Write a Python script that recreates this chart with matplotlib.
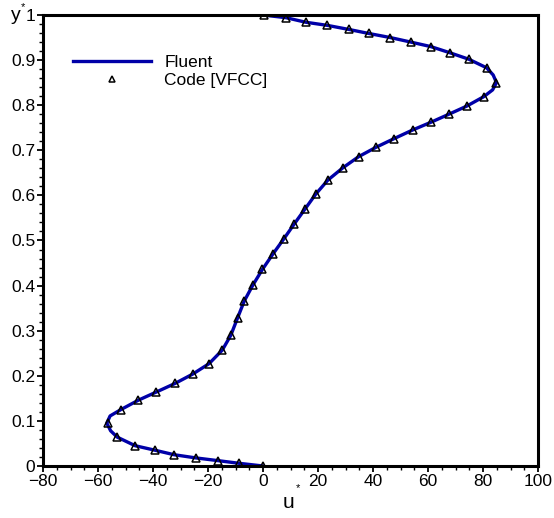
import matplotlib
matplotlib.use("Agg")
import matplotlib.pyplot as plt
from matplotlib.ticker import MultipleLocator

plt.rcParams['font.family'] = ['Liberation Sans', 'DejaVu Sans']

# Code [VFCC] samples (u*, y*)
code_u = [0.0, -8.7, -16.5, -24.5, -32.3, -39.3, -46.5, -53.0, -56.4, -51.7,
          -45.3, -38.8, -32.0, -25.5, -19.6, -14.8, -11.7, -9.2, -6.8, -3.7,
          -0.2, 3.6, 7.5, 11.4, 15.3, 19.2, 23.6, 29.0, 34.8, 41.2,
          47.7, 54.4, 61.0, 67.6, 74.1, 80.3, 84.6, 81.3, 74.8, 68.1,
          61.0, 53.7, 46.3, 38.5, 31.2, 23.4, 15.5, 8.4, 0.5]
code_y = [0.0, 0.006, 0.012, 0.018, 0.025, 0.035, 0.045, 0.064, 0.095, 0.125,
          0.146, 0.164, 0.183, 0.204, 0.227, 0.257, 0.290, 0.329, 0.366, 0.401,
          0.436, 0.470, 0.503, 0.537, 0.570, 0.603, 0.634, 0.661, 0.686, 0.707,
          0.726, 0.745, 0.762, 0.780, 0.798, 0.819, 0.850, 0.883, 0.902, 0.916,
          0.930, 0.940, 0.950, 0.959, 0.968, 0.977, 0.984, 0.994, 1.0]

# Fluent profile (u*, y*)
fluent_u = [0.0, -8.7, -16.5, -24.5, -32.3, -39.3, -46.5, -53.0, -55.4, -56.8, -55.6, -51.7,
            -45.3, -38.8, -32.0, -25.5, -19.6, -14.8, -11.7, -9.2, -6.8, -3.7,
            -0.2, 3.6, 7.5, 11.4, 15.3, 19.2, 23.6, 29.0, 34.8, 41.2,
            47.7, 54.4, 61.0, 67.6, 74.1, 80.3, 83.5, 84.9, 83.7, 81.3, 74.8, 68.1,
            61.0, 53.7, 46.3, 38.5, 31.2, 23.4, 15.5, 8.4, 0.0]
fluent_y = [0.0, 0.006, 0.012, 0.018, 0.025, 0.035, 0.045, 0.064, 0.078, 0.095, 0.111, 0.125,
            0.146, 0.164, 0.183, 0.204, 0.227, 0.257, 0.290, 0.329, 0.366, 0.401,
            0.436, 0.470, 0.503, 0.537, 0.570, 0.603, 0.634, 0.661, 0.686, 0.707,
            0.726, 0.745, 0.762, 0.780, 0.798, 0.819, 0.834, 0.850, 0.867, 0.883, 0.902, 0.916,
            0.930, 0.940, 0.950, 0.959, 0.968, 0.977, 0.984, 0.994, 1.0]

W, H = 554, 518
fig = plt.figure(figsize=(W / 100, H / 100), dpi=100)
ax = fig.add_axes([43 / W, 1 - 466 / H, (538 - 43) / W, (466 - 15) / H])

ax.plot(fluent_u, fluent_y, color='#0000A8', lw=2.4, label='Fluent', zorder=2,
        solid_joinstyle='round')
ax.plot(code_u, code_y, ls='none', marker='^', ms=5.8, mfc='none', mec='black',
        mew=1.1, label='Code [VFCC]', zorder=3)

ax.set_xlim(-80, 100)
ax.set_ylim(0, 1)
ax.xaxis.set_major_locator(MultipleLocator(20))
ax.xaxis.set_minor_locator(MultipleLocator(5))
ax.yaxis.set_major_locator(MultipleLocator(0.1))
ax.yaxis.set_minor_locator(MultipleLocator(0.02))
ax.set_yticks([0, 0.1, 0.2, 0.3, 0.4, 0.5, 0.6, 0.7, 0.8, 0.9, 1.0])
ax.set_yticklabels(['0', '0.1', '0.2', '0.3', '0.4', '0.5', '0.6', '0.7', '0.8', '0.9', '1'])

for s in ax.spines.values():
    s.set_linewidth(2.2)
ax.tick_params(which='major', direction='out', length=4.5, width=1.3, labelsize=12.5, pad=1)
ax.tick_params(which='minor', direction='out', length=3.2, width=1.0)

leg = ax.legend(loc='upper left', bbox_to_anchor=(0.061, 0.912), frameon=False,
                fontsize=12.5, handlelength=4.5, handletextpad=0.75, labelspacing=0.15,
                borderaxespad=0, borderpad=0, markerscale=0.75)

fig.text(289 / W, 1 - 503 / H, 'u', fontsize=15, ha='center', va='center')
fig.text(298 / W, 1 - 488 / H, '*', fontsize=8, ha='center', va='center')
fig.text(16 / W, 1 - 16 / H, 'y', fontsize=14, ha='center', va='center')
fig.text(23 / W, 1 - 7 / H, '*', fontsize=8, ha='center', va='center')

fig.savefig('out.png', dpi=100)
